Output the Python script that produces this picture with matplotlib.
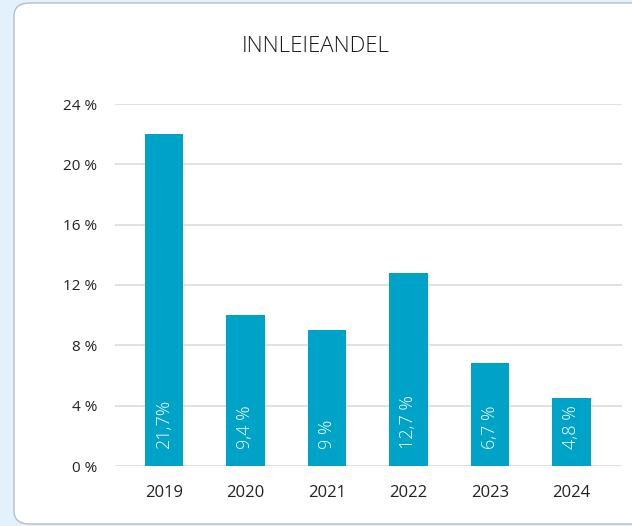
import matplotlib.pyplot as plt
from matplotlib.patches import FancyBboxPatch
import numpy as np

plt.rcParams['font.family'] = ['Open Sans', 'DejaVu Sans']

years = ["2019", "2020", "2021", "2022", "2023", "2024"]
share = [22.0, 10.0, 9.0, 12.8, 6.8, 4.5]
share_labels = ["21,7%", "9,4 %", "9 %", "12,7 %", "6,7 %", "4,8 %"]
yticks = [0, 4, 8, 12, 16, 20, 24]
ytick_labels = ["0 %", "4 %", "8 %", "12 %", "16 %", "20 %", "24 %"]

bar_color = "#00a3c8"

fig = plt.figure(figsize=(6.32, 5.26), dpi=100)
fig.patch.set_facecolor("#e2f1fb")

# white card, rounded on the left, running off the right edge
card = FancyBboxPatch((14 / 632, 1 - 524 / 526), 1.2, (524 - 3) / 526,
                      boxstyle="round,pad=0,rounding_size=0.025",
                      transform=fig.transFigure, facecolor="white",
                      edgecolor="#b9bec4", linewidth=1.0, zorder=-5)
fig.patches.append(card)

ax = fig.add_axes([115 / 632, 1 - 466 / 526, (622 - 115) / 632, (466 - 104) / 526],
                  zorder=2)
ax.set_facecolor("none")

x = np.arange(len(years))
ax.bar(x, share, width=0.47, color=bar_color, zorder=3)

for xi, lab in zip(x, share_labels):
    ax.text(xi, 1.1, lab, rotation=90, ha="center", va="bottom",
            color="white", fontsize=13, fontweight="light", zorder=4)

ax.set_ylim(0, 24)
ax.set_xlim(-0.6, 5.62)
ax.set_yticks(yticks)
ax.set_yticklabels(ytick_labels)
ax.set_xticks(x)
ax.set_xticklabels(years)
ax.tick_params(axis="y", length=0, pad=13, labelsize=11, labelcolor="#222222")
ax.tick_params(axis="x", length=0, pad=14, labelsize=12, labelcolor="#222222")
ax.grid(axis="y", color="#dcdcdc", linewidth=1.2, zorder=0)
for s in ax.spines.values():
    s.set_visible(False)

fig.text(316 / 632, 1 - 47 / 526, "INNLEIEANDEL", ha="center", va="center",
         fontsize=16, fontweight="light", color="#1a1a1a", zorder=3)

fig.savefig("out.png", dpi=100, facecolor=fig.get_facecolor())
